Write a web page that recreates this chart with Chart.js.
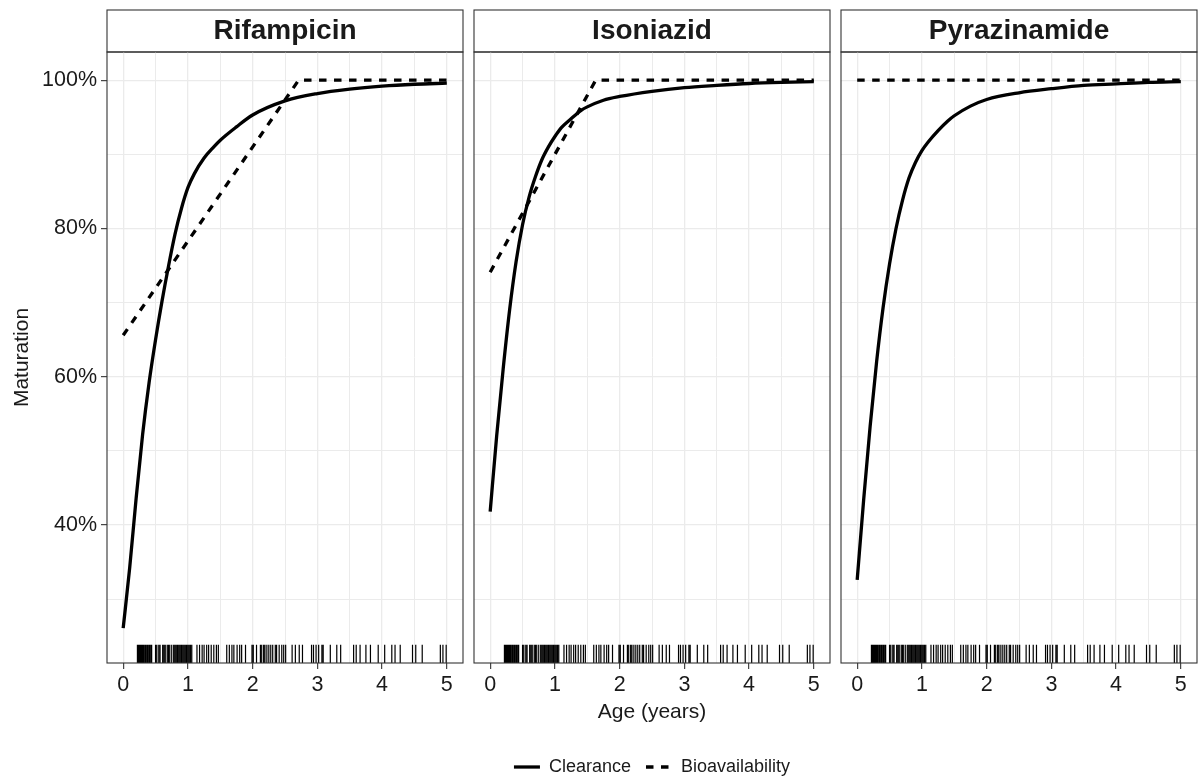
<!DOCTYPE html>
<html>
<head>
<meta charset="utf-8">
<title>Maturation by age</title>
<script src="https://cdn.jsdelivr.net/npm/chart.js@4/dist/chart.umd.min.js"></script>
<style>
	html, body { margin: 0; padding: 0; background: #fff; overflow: hidden; }
	#wrap { position: relative; width: 1200px; height: 783px; overflow: hidden; background: #fff; }
	#wrap canvas { position: absolute; left: 0; top: 0; }
</style>
</head>
<body>
<div id="wrap">
	<canvas id="rif" width="1200" height="786"></canvas>
	<canvas id="iso" width="1200" height="786"></canvas>
	<canvas id="pza" width="1200" height="786"></canvas>
</div>
<script>
"use strict";
/* globals Chart */

const ages = [0, 0.1, 0.2, 0.3, 0.4, 0.5, 0.6, 0.7, 0.8, 0.9, 1.0, 1.1, 1.25, 1.4, 1.5, 1.75, 2.0, 2.5, 3.0, 3.5, 4.0, 4.5, 5.0];

// clearance maturation (%)
const rifClearance = [26.1, 34.2, 43.6, 52.2, 59.2, 65.0, 70.2, 74.9, 79.2, 82.7, 85.5, 87.4, 89.5, 91.0, 91.9, 93.7, 95.3, 97.2, 98.2, 98.8, 99.2, 99.45, 99.6];
const isoClearance = [41.8, 52.0, 61.0, 69.0, 75.5, 80.5, 84.2, 87.0, 89.3, 91.0, 92.4, 93.6, 94.8, 95.9, 96.4, 97.3, 97.8, 98.5, 99.0, 99.3, 99.55, 99.7, 99.8];
const pzaClearance = [32.6, 43.4, 53.3, 62.0, 69.3, 75.2, 80.0, 83.8, 86.8, 88.9, 90.5, 91.7, 93.2, 94.5, 95.2, 96.5, 97.4, 98.3, 98.85, 99.3, 99.5, 99.7, 99.8];

// bioavailability maturation (%)
const rifBioAges = [0, 2.71, 5];
const rifBio = [65.6, 100, 100];
const isoBioAges = [0, 1.63, 5];
const isoBio = [74.1, 100, 100];
const pzaBioAges = [0, 5];
const pzaBio = [100, 100];

// observed ages of the children (rug)
const rugAges = [
	0.22, 0.23, 0.24, 0.25, 0.26, 0.27, 0.28, 0.29, 0.30, 0.31, 0.32, 0.34, 0.35, 0.37, 0.38, 0.40, 0.41, 0.43, 0.44,
	0.50, 0.52, 0.55, 0.57, 0.61, 0.63, 0.65, 0.68, 0.70, 0.72, 0.75, 0.78, 0.80, 0.82, 0.84, 0.86, 0.88, 0.90,
	0.92, 0.94, 0.96, 0.98, 1.00, 1.02, 1.04, 1.06,
	1.14, 1.18, 1.22, 1.25, 1.29, 1.32, 1.36, 1.40, 1.44, 1.47,
	1.60, 1.64, 1.68, 1.71, 1.76, 1.80, 1.83, 1.89,
	1.99, 2.01, 2.06, 2.12, 2.14, 2.17, 2.19, 2.22, 2.25, 2.28, 2.31, 2.35, 2.37, 2.41, 2.45, 2.48, 2.51,
	2.61, 2.66, 2.72, 2.77,
	2.91, 2.94, 2.98, 3.02, 3.07, 3.09,
	3.20, 3.30, 3.36,
	3.56, 3.60, 3.66, 3.75, 3.82,
	3.94, 4.04, 4.15, 4.20, 4.28,
	4.47, 4.52, 4.62,
	4.90, 4.94, 4.99
];

const xTicks = [0, 0.5, 1, 1.5, 2, 2.5, 3, 3.5, 4, 4.5, 5];
const xLabels = [0, 1, 2, 3, 4, 5];
const yTicks = [30, 40, 50, 60, 70, 80, 90, 100];
const yLabels = [40, 60, 80, 100];

Chart.defaults.font.family = "'Liberation Sans', Arial, sans-serif";
Chart.defaults.color = '#1a1a1a';

const ink = '#1a1a1a';

// strip on top, frame around the panel, rug along the bottom
const facetPlugin = {
	id: 'facet',
	beforeDraw(chart) {
		const ctx = chart.ctx;
		const a = chart.chartArea;
		ctx.save();
		ctx.fillStyle = '#fff';
		ctx.fillRect(a.left, 10, a.right - a.left, a.top - 10);
		ctx.strokeStyle = '#333';
		ctx.lineWidth = 1.1;
		ctx.strokeRect(a.left, 10, a.right - a.left, a.top - 10);
		ctx.restore();
	},
	afterDatasetsDraw(chart) {
		const ctx = chart.ctx;
		const a = chart.chartArea;
		const x = chart.scales.x;
		const len = (a.bottom - a.top) * 0.03;
		ctx.save();
		ctx.strokeStyle = '#000';
		ctx.lineWidth = 1.2;
		ctx.beginPath();
		rugAges.forEach(function(age) {
			const px = x.getPixelForValue(age);
			ctx.moveTo(px, a.bottom);
			ctx.lineTo(px, a.bottom - len);
		});
		ctx.stroke();
		ctx.strokeStyle = '#333';
		ctx.lineWidth = 1.1;
		ctx.strokeRect(a.left, a.top, a.right - a.left, a.bottom - a.top);
		ctx.restore();
	}
};

function toPoints(xs, ys) {
	return xs.map(function(v, i) {
		return {x: v, y: ys[i]};
	});
}

// legend keys: keep the dash of each dataset
function legendLabels(chart) {
	const items = Chart.defaults.plugins.legend.labels.generateLabels(chart);
	items.forEach(function(item) {
		const ds = chart.data.datasets[item.datasetIndex];
		item.lineDash = ds.borderDash || [];
		item.lineWidth = ds.borderWidth;
		item.strokeStyle = ds.borderColor;
	});
	return items;
}

function panelConfig(name, clearance, bioAges, bio, frame) {
	return {
		type: 'line',
		data: {
			datasets: [
				{
					label: 'Bioavailability',
					data: toPoints(bioAges, bio),
					borderColor: '#000',
					backgroundColor: '#000',
					borderWidth: 3.3,
					borderDash: [7.5, 7.5],
					pointRadius: 0,
					tension: 0,
				},
				{
					label: 'Clearance',
					data: toPoints(ages, clearance),
					borderColor: '#000',
					backgroundColor: '#000',
					borderWidth: 3.3,
					pointRadius: 0,
					cubicInterpolationMode: 'monotone',
				}
			]
		},
		options: {
			responsive: false,
			animation: false,
			devicePixelRatio: 1,
			layout: {
				padding: {left: 0, right: 1200 - frame.right, top: 0, bottom: 0}
			},
			scales: {
				x: {
					type: 'linear',
					min: -0.25,
					max: 5.25,
					afterBuildTicks: function(scale) {
						scale.ticks = xTicks.map(function(v) { return {value: v}; });
					},
					afterFit: function(scale) {
						scale.height = frame.middle ? 80 : 123;
					},
					ticks: {
						autoSkip: false,
						maxRotation: 0,
						padding: 3,
						color: ink,
						font: {size: 21.5},
						callback: function(val) {
							return xLabels.includes(val) ? String(val) : '';
						}
					},
					grid: {
						color: '#EBEBEB',
						lineWidth: function(ctx) {
							return xLabels.includes(ctx.tick.value) ? 1.3 : 1;
						},
						tickLength: 6,
						tickWidth: 1.1,
						tickColor: function(ctx) {
							return xLabels.includes(ctx.tick.value) ? '#333' : 'rgba(0,0,0,0)';
						}
					},
					border: {display: false},
					title: {
						display: frame.middle,
						text: 'Age (years)',
						color: ink,
						font: {size: 21},
						padding: {top: 0, bottom: 18.4}
					}
				},
				y: {
					type: 'linear',
					min: 21.4,
					max: 103.8,
					afterBuildTicks: function(scale) {
						scale.ticks = yTicks.map(function(v) { return {value: v}; });
					},
					afterFit: function(scale) {
						scale.width = frame.left;
					},
					ticks: {
						display: frame.first,
						padding: 4,
						color: ink,
						font: {size: 21.5},
						callback: function(val) {
							return yLabels.includes(val) ? val + '%' : '';
						}
					},
					grid: {
						color: '#EBEBEB',
						lineWidth: function(ctx) {
							return yLabels.includes(ctx.tick.value) ? 1.3 : 1;
						},
						drawTicks: frame.first,
						tickLength: 6,
						tickWidth: 1.1,
						tickColor: function(ctx) {
							return yLabels.includes(ctx.tick.value) ? '#333' : 'rgba(0,0,0,0)';
						}
					},
					border: {display: false},
					title: {
						display: frame.first,
						text: 'Maturation',
						color: ink,
						font: {size: 21},
						padding: {top: 9.4, bottom: 0}
					}
				}
			},
			plugins: {
				title: {
					display: true,
					text: name,
					fullSize: false,
					color: ink,
					font: {size: 28, weight: 'bold'},
					padding: {top: 14.2, bottom: 4.2}
				},
				legend: {
					display: frame.middle,
					position: 'bottom',
					fullSize: false,
					reverse: true,
					maxHeight: 43,
					labels: {
						usePointStyle: true,
						pointStyle: 'line',
						pointStyleWidth: 26,
						padding: 15,
						color: ink,
						font: {size: 18},
						generateLabels: legendLabels
					}
				},
				tooltip: {enabled: false}
			}
		},
		plugins: [facetPlugin]
	};
}

new Chart(document.getElementById('rif'),
	panelConfig('Rifampicin', rifClearance, rifBioAges, rifBio, {left: 107, right: 463, first: true, middle: false}));
new Chart(document.getElementById('iso'),
	panelConfig('Isoniazid', isoClearance, isoBioAges, isoBio, {left: 474, right: 830, first: false, middle: true}));
new Chart(document.getElementById('pza'),
	panelConfig('Pyrazinamide', pzaClearance, pzaBioAges, pzaBio, {left: 841, right: 1197, first: false, middle: false}));
</script>
</body>
</html>
